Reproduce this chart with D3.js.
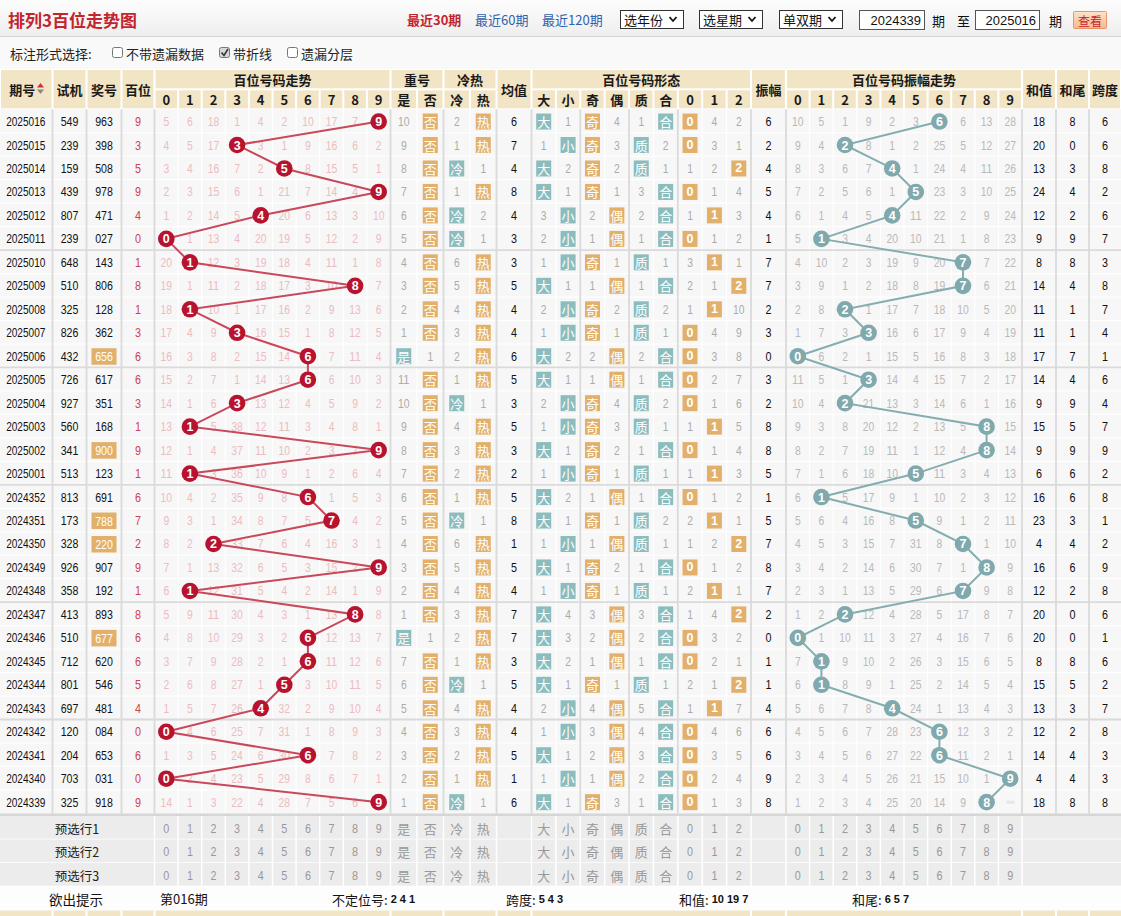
<!DOCTYPE html>
<html><head><meta charset="utf-8">
<script src="https://cdn.jsdelivr.net/npm/d3@7"></script>
<style>body{margin:0;background:#fff;overflow:hidden}</style>
</head><body><svg id="c" width="1121" height="916"></svg>
<script>
// ---------------- DATA ----------------
const issues = ["2025016","2025015","2025014","2025013","2025012","2025011","2025010","2025009","2025008","2025007","2025006","2025005","2025004","2025003","2025002","2025001","2024352","2024351","2024350","2024349","2024348","2024347","2024346","2024345","2024344","2024343","2024342","2024341","2024340","2024339"];
const tests = ["549","239","159","439","807","239","648","510","325","826","432","726","927","560","341","513","813","173","328","926","358","413","510","712","801","697","120","204","703","325"];
const prizes = ["963","398","508","978","471","027","143","806","128","362","656","617","351","168","900","123","691","788","220","907","192","893","677","620","546","481","084","653","031","918"];
const hundreds = [9,3,5,9,4,0,1,8,1,3,6,6,3,1,9,1,6,7,2,9,1,8,6,6,5,4,0,6,0,9];
// omission values, 0 = hit
const trendMiss = [
[5,6,18,1,4,2,10,17,7,0],[4,5,17,0,3,1,9,16,6,2],[3,4,16,7,2,0,8,15,5,1],[2,3,15,6,1,21,7,14,4,0],
[1,2,14,5,0,20,6,13,3,10],[0,1,13,4,20,19,5,12,2,9],[20,0,12,3,19,18,4,11,1,8],[19,1,11,2,18,17,3,10,0,7],
[18,0,10,1,17,16,2,9,13,6],[17,4,9,0,16,15,1,8,12,5],[16,3,8,2,15,14,0,7,11,4],[15,2,7,1,14,13,0,6,10,3],
[14,1,6,0,13,12,4,5,9,2],[13,0,5,38,12,11,3,4,8,1],[12,1,4,37,11,10,2,3,7,0],[11,0,3,36,10,9,1,2,6,4],
[10,4,2,35,9,8,0,1,5,3],[9,3,1,34,8,7,5,0,4,2],[8,2,0,33,7,6,4,16,3,1],[7,1,13,32,6,5,3,15,2,0],
[6,0,12,31,5,4,2,14,1,9],[5,9,11,30,4,3,1,13,0,8],[4,8,10,29,3,2,0,12,13,7],[3,7,9,28,2,1,0,11,12,6],
[2,6,8,27,1,0,3,10,11,5],[1,5,7,26,0,32,2,9,10,4],[0,4,6,25,7,31,1,8,9,3],[1,3,5,24,6,30,0,7,8,2],
[0,2,4,23,5,29,8,6,7,1],[14,1,3,22,4,28,7,5,6,0]];
const repeatMiss = [[10,0],[9,0],[8,0],[7,0],[6,0],[5,0],[4,0],[3,0],[2,0],[1,0],[0,1],[11,0],[10,0],[9,0],[8,0],[7,0],[6,0],[5,0],[4,0],[3,0],[2,0],[1,0],[0,1],[7,0],[6,0],[5,0],[4,0],[3,0],[2,0],[1,0]];
const coldHotMiss = [[2,0],[1,0],[0,1],[1,0],[0,2],[0,1],[6,0],[5,0],[4,0],[3,0],[2,0],[1,0],[0,1],[4,0],[3,0],[2,0],[1,0],[0,1],[6,0],[5,0],[4,0],[3,0],[2,0],[1,0],[0,1],[4,0],[3,0],[2,0],[1,0],[0,1]];
const avgVals = [6,7,4,8,4,3,3,5,4,4,6,5,3,5,3,2,5,8,1,5,4,7,7,3,5,4,4,5,1,6];
const formMiss = [
[0,1,0,4,1,0,0,4,2],[1,0,0,3,0,2,0,3,1],[0,2,0,2,0,1,1,2,0],[0,1,0,1,3,0,0,1,4],[3,0,2,0,2,0,1,0,3],
[2,0,1,0,1,0,0,1,2],[1,0,0,1,0,1,3,0,1],[0,1,1,0,1,0,2,1,0],[2,0,0,2,0,2,1,0,10],[1,0,0,1,0,1,0,4,9],
[0,2,2,0,2,0,0,3,8],[0,1,1,0,1,0,0,2,7],[2,0,0,4,0,2,0,1,6],[1,0,0,3,0,1,1,0,5],[0,1,0,2,1,0,0,1,4],
[1,0,0,1,0,1,1,0,3],[0,2,1,0,1,0,0,1,2],[0,1,0,1,0,2,2,0,1],[1,0,1,0,0,1,1,2,0],[0,1,0,2,1,0,0,1,2],
[1,0,0,1,0,1,2,0,1],[0,4,3,0,3,0,1,4,0],[0,3,2,0,2,0,0,3,2],[0,2,1,0,1,0,0,2,1],[0,1,0,1,0,1,2,1,0],
[2,0,4,0,5,0,1,0,7],[1,0,3,0,4,0,0,4,6],[0,1,2,0,3,0,0,3,5],[1,0,1,0,2,0,0,2,4],[0,1,0,3,1,0,0,1,3]];
const ampVals = [6,2,4,5,4,1,7,7,2,3,0,3,2,8,8,5,1,5,7,8,7,2,0,1,1,4,6,6,9,8];
const ampMiss = [
[10,5,1,9,2,3,0,6,13,28],[9,4,0,8,1,2,25,5,12,27],[8,3,6,7,0,1,24,4,11,26],[7,2,5,6,1,0,23,3,10,25],
[6,1,4,5,0,11,22,2,9,24],[5,0,3,4,20,10,21,1,8,23],[4,10,2,3,19,9,20,0,7,22],[3,9,1,2,18,8,19,0,6,21],
[2,8,0,1,17,7,18,10,5,20],[1,7,3,0,16,6,17,9,4,19],[0,6,2,1,15,5,16,8,3,18],[11,5,1,0,14,4,15,7,2,17],
[10,4,0,21,13,3,14,6,1,16],[9,3,8,20,12,2,13,5,0,15],[8,2,7,19,11,1,12,4,0,14],[7,1,6,18,10,0,11,3,4,13],
[6,0,5,17,9,1,10,2,3,12],[5,6,4,16,8,0,9,1,2,11],[4,5,3,15,7,31,8,0,1,10],[3,4,2,14,6,30,7,1,0,9],
[2,3,1,13,5,29,6,0,9,8],[1,2,0,12,4,28,5,17,8,7],[0,1,10,11,3,27,4,16,7,6],[7,0,9,10,2,26,3,15,6,5],
[6,0,8,9,1,25,2,14,5,4],[5,6,7,8,0,24,1,13,4,3],[4,5,6,7,28,23,0,12,3,2],[3,4,5,6,27,22,0,11,2,1],
[2,3,4,5,26,21,15,10,1,0],[1,2,3,4,25,20,14,9,0,-1]];
const sumVals = [18,20,13,24,12,9,8,14,11,11,17,14,9,15,9,6,16,23,4,16,12,20,20,8,15,13,12,14,4,18];
const sumTails = [8,0,3,4,2,9,8,4,1,1,7,4,9,5,9,6,6,3,4,6,2,0,0,8,5,3,2,4,4,8];
const spans = [6,6,8,2,6,7,3,8,7,4,1,6,4,7,9,2,8,1,2,9,8,6,1,6,2,7,8,3,3,8];

const digitLabels = ["0","1","2","3","4","5","6","7","8","9"];
const repeatLabels = ["是","否"];
const coldHotLabels = ["冷","热"];
const formLabels = ["大","小","奇","偶","质","合","0","1","2"];
const presetLabels = ["预选行1","预选行2","预选行3"];
const navLinks = ["最近30期","最近60期","最近120期"];
const selectLabels = ["选年份","选星期","单双期"];
const rangeStart = "2024339", rangeEnd = "2025016";
const optionLabels = ["不带遗漏数据","带折线","遗漏分层"];
const hintIssue = "第016期";
const hintItems = [["不定位号:","2 4 1"],["跨度:","5 4 3"],["和值:","10 19 7"],["和尾:","6 5 7"]];

// ---------------- LAYOUT ----------------
const CJK = '"Noto Sans CJK SC","Noto Sans",sans-serif';
const NUM = '"Liberation Sans",Arial,sans-serif';
const DW = 5.75; // condensed digit advance
const ROW_H = 23.47, TOP = 109.3, NROW = issues.length;
const BOT = TOP + ROW_H * NROW;
const col = {issue:[0,52.5], test:[52.5,86.5], prize:[86.5,121.5], hund:[121.5,154.5], avg:[496.5,531.5], amp:[751,786], sum:[1022,1056], tail:[1056,1089], span:[1089,1121]};
const y = d3.scaleBand().domain(issues).range([TOP, BOT]);
const xTrend = d3.scaleBand().domain(digitLabels).range([154.5, 390.5]);
const xRep = d3.scaleBand().domain(repeatLabels).range([390.5, 443.5]);
const xCH = d3.scaleBand().domain(coldHotLabels).range([443.5, 496.5]);
const xForm = d3.scaleBand().domain(formLabels).range([531.5, 751]);
const xAmp = d3.scaleBand().domain(digitLabels).range([786, 1022]);
const cx = c => (c[0]+c[1])/2;

const C = {beige:'#f2e5c5', cell:'#f7f7f7', grid:'#ffffff', major:'#dadada', red:'#b8132e', redLine:'#c9485a',
  teal:'#7fa9ac', tealLine:'#84adaf', boxT:'#8bbcbe', boxO:'#e2b06b', pink:'#ecbcc0', gray:'#ababab', gray2:'#b9b9b9'};

const svg = d3.select('#c');
function T(g,x,yy,s,o={}){
  s = String(s);
  const t = g.append('text').attr('x',x).attr('y',yy).attr('text-anchor',o.anchor||'middle')
    .attr('dominant-baseline','central').attr('font-size',o.size||12).attr('font-weight',o.weight||'normal')
    .attr('fill',o.fill||'#222').attr('font-family',o.family||NUM).text(s);
  if(o.cond) t.attr('textLength', s.length*(o.dw||DW)).attr('lengthAdjust','spacingAndGlyphs');
  return t;
}
function R(g,x,yy,w,h,fill,o={}){
  const r = g.append('rect').attr('x',x).attr('y',yy).attr('width',w).attr('height',h).attr('fill',fill);
  if(o.stroke) r.attr('stroke',o.stroke).attr('stroke-width',o.sw||1);
  if(o.rx) r.attr('rx',o.rx);
  return r;
}

// ---------------- TOP BAR ----------------
const defs = svg.append('defs');
const gr = defs.append('linearGradient').attr('id','topg').attr('x1',0).attr('y1',0).attr('x2',0).attr('y2',1);
gr.append('stop').attr('offset','0%').attr('stop-color','#fdfdfd');
gr.append('stop').attr('offset','100%').attr('stop-color','#eeeeee');
const bgr = defs.append('linearGradient').attr('id','btng').attr('x1',0).attr('y1',0).attr('x2',0).attr('y2',1);
bgr.append('stop').attr('offset','0%').attr('stop-color','#fde3cc');
bgr.append('stop').attr('offset','100%').attr('stop-color','#f7b88a');
const topG = svg.append('g');
R(topG,0,0,1121,36,'url(#topg)');
topG.append('line').attr('x1',0).attr('x2',1121).attr('y1',36.5).attr('y2',36.5).attr('stroke','#d4d4d4');
R(topG,0,37,1121,32,'#f9f9f9');
T(topG,8,19,"排列3百位走势图",{anchor:'start',size:17,weight:'bold',fill:'#c4242d',family:CJK});
const navX = [407,475,542];
navLinks.forEach((s,i)=>T(topG,navX[i],19,s,{anchor:'start',size:13,weight:i===0?'bold':'normal',fill:i===0?'#c4242d':'#2f62ad',family:CJK}));
const selX = [[620,683],[699,762],[779,842]];
selectLabels.forEach((s,i)=>{
  R(topG,selX[i][0]+0.5,10.5,selX[i][1]-selX[i][0],18,'#fff',{stroke:'#333'});
  T(topG,selX[i][0]+4,19.5,s,{anchor:'start',size:13,fill:'#111',family:CJK});
  const ax = selX[i][1]-10;
  topG.append('path').attr('d',`M${ax-3.5},17 L${ax},21 L${ax+3.5},17`).attr('fill','none').attr('stroke','#111').attr('stroke-width',1.8);
});
R(topG,859.5,10.5,65,19,'#fff',{stroke:'#555'});
T(topG,921,20,rangeStart,{anchor:'end',size:13,fill:'#111',cond:true,dw:7.2});
T(topG,932,20,"期",{anchor:'start',size:13,fill:'#111',family:CJK});
T(topG,957,20,"至",{anchor:'start',size:13,fill:'#111',family:CJK});
R(topG,975.5,10.5,64,19,'#fff',{stroke:'#555'});
T(topG,1036,20,rangeEnd,{anchor:'end',size:13,fill:'#111',cond:true,dw:7.2});
T(topG,1049,20,"期",{anchor:'start',size:13,fill:'#111',family:CJK});
R(topG,1073.5,11.5,33,17,'url(#btng)',{stroke:'#e8956b',rx:1});
T(topG,1090,20,"查看",{size:12,fill:'#c4242d',family:CJK});

T(topG,10,53,"标注形式选择:",{anchor:'start',size:13,fill:'#222',family:CJK});
const optX = [112,219,287];
optionLabels.forEach((s,i)=>{
  R(topG,optX[i]+0.5,47.5,10,10,i===1?'#d9d9d9':'#fff',{stroke:'#767676',rx:2});
  if(i===1) topG.append('path').attr('d',`M${optX[i]+2.5},52.5 L${optX[i]+5},55.5 L${optX[i]+9},49`).attr('fill','none').attr('stroke','#333').attr('stroke-width',1.6);
  T(topG,optX[i]+14,53,s,{anchor:'start',size:13,fill:'#222',family:CJK});
});

// ---------------- HEADER ----------------
const hd = svg.append('g');
R(hd,0,69,1121,40,'#ffffff');
const H1 = 69, H2 = 89.3, H3 = TOP;
function hcell(x0,x1,y0,y1,label,o={}){
  R(hd,x0+1,y0+1,x1-x0-2,y1-y0-2,C.beige);
  if(label!==undefined) T(hd,(x0+x1)/2 + (o.dx||0),(y0+y1)/2,label,{size:o.size||13,weight:'bold',fill:'#1a1a1a',family:CJK});
}
[['issue','期号'],['test','试机'],['prize','奖号'],['hund','百位'],['avg','均值'],['amp','振幅'],['sum','和值'],['tail','和尾'],['span','跨度']]
  .forEach(([k,l])=>hcell(col[k][0],col[k][1],H1,H3,l,{dx:k==='issue'?-4:0}));
hd.append('path').attr('d','M37,87.5 L40.5,83 L44,87.5 Z').attr('fill','#d0303a');
hd.append('path').attr('d','M37,89.5 L40.5,94 L44,89.5 Z').attr('fill','#888');
const groups = [[xTrend,'百位号码走势'],[xRep,'重号'],[xCH,'冷热'],[xForm,'百位号码形态'],[xAmp,'百位号码振幅走势']];
groups.forEach(([sc,l])=>{
  const r = sc.range();
  hcell(r[0],r[1],H1,H2,l);
  sc.domain().forEach(d=>hcell(sc(d),sc(d)+sc.bandwidth(),H2,H3,d,{size:13}));
});

// ---------------- BODY GRID ----------------
const body = svg.append('g');
R(body,0,TOP,1121,BOT-TOP,C.cell);
const minorX = [];
[xTrend,xRep,xCH,xForm,xAmp].forEach(sc=>sc.domain().slice(1).forEach(d=>minorX.push(sc(d))));
body.selectAll('line.mx').data(minorX).join('line').attr('x1',d=>d).attr('x2',d=>d).attr('y1',TOP).attr('y2',BOT).attr('stroke',C.grid).attr('stroke-width',1.2);
body.selectAll('line.hy').data(issues.slice(1)).join('line').attr('x1',0).attr('x2',1121).attr('y1',d=>y(d)).attr('y2',d=>y(d)).attr('stroke',C.grid).attr('stroke-width',1.2);
const majorX = [52.5,86.5,121.5,154.5,390.5,443.5,496.5,531.5,xForm('奇'),xForm('质'),xForm('0'),751,786,1022,1056,1089];
body.selectAll('line.Mx').data(majorX).join('line').attr('x1',d=>d).attr('x2',d=>d).attr('y1',TOP).attr('y2',BOT).attr('stroke',C.major).attr('stroke-width',1.8);
const sepRows = issues.filter((d,i)=>i>5 && (i-1)%5===0);
body.selectAll('line.sy').data(sepRows).join('line').attr('x1',0).attr('x2',1121).attr('y1',d=>y(d)).attr('y2',d=>y(d)).attr('stroke',C.major).attr('stroke-width',1.8);

// ---------------- BODY CONTENT ----------------
const rows = issues.map((d,i)=>({i,issue:d}));
const cy = d => y(d.issue) + ROW_H/2 + 0.5;
const g = body.append('g');
const rg = g.selectAll('g.r').data(rows).join('g');
rg.each(function(d){
  const s = d3.select(this), i = d.i, yy = cy(d);
  T(s,cx(col.issue)-0.5,yy,d.issue,{size:13,fill:'#111',cond:true,dw:5.6});
  T(s,cx(col.test),yy,tests[i],{size:13.5,fill:'#111',cond:true,dw:5.9});
  const p = prizes[i];
  if(new Set(p.split('')).size < 3){
    R(s,cx(col.prize)-12.5,yy-8,25,16.5,C.boxO);
    T(s,cx(col.prize),yy+0.5,p,{size:13.5,fill:'#fff',cond:true,dw:5.9});
  } else T(s,cx(col.prize),yy,p,{size:13.5,fill:'#111',cond:true,dw:5.9});
  T(s,cx(col.hund),yy,hundreds[i],{size:13.5,fill:'#d0404f',cond:true,dw:6});
  trendMiss[i].forEach((v,k)=>{ if(v>0) T(s,xTrend(digitLabels[k])+xTrend.bandwidth()/2,yy,v,{size:13,fill:C.pink,cond:true}); });
  repeatMiss[i].forEach((v,k)=>{
    const xx = xRep(repeatLabels[k])+xRep.bandwidth()/2;
    if(v===0){ R(s,xx-7.5,yy-8,15,16,k===0?C.boxT:C.boxO); T(s,xx,yy,repeatLabels[k],{size:13,fill:'#fff',family:CJK}); }
    else T(s,xx,yy,v,{size:13,fill:C.gray,cond:true});
  });
  coldHotMiss[i].forEach((v,k)=>{
    const xx = xCH(coldHotLabels[k])+xCH.bandwidth()/2;
    if(v===0){ R(s,xx-7.5,yy-8,15,16,k===0?C.boxT:C.boxO); T(s,xx,yy,coldHotLabels[k],{size:13,fill:'#fff',family:CJK}); }
    else T(s,xx,yy,v,{size:13,fill:C.gray,cond:true});
  });
  T(s,cx(col.avg),yy,avgVals[i],{size:13.5,fill:'#111',cond:true,dw:6});
  formMiss[i].forEach((v,k)=>{
    const xx = xForm(formLabels[k])+xForm.bandwidth()/2;
    if(v===0){
      const teal = (k<2)||(k===4||k===5);
      R(s,xx-7.5,yy-8,15,16,teal?C.boxT:C.boxO);
      T(s,xx,yy,formLabels[k],{size:k>=6?12.5:13,weight:k>=6?'bold':'normal',fill:'#fff',family:k>=6?NUM:CJK});
    } else T(s,xx,yy,v,{size:13,fill:C.gray,cond:true});
  });
  T(s,cx(col.amp),yy,ampVals[i],{size:13.5,fill:'#111',cond:true,dw:6});
  ampMiss[i].forEach((v,k)=>{
    const xx = xAmp(digitLabels[k])+xAmp.bandwidth()/2;
    if(v>0) T(s,xx,yy,v,{size:13,fill:C.gray2,cond:true});
    else if(v<0) R(s,xx-4,yy-1.5,8,3,'#e6e6e6');
  });
  T(s,cx(col.sum),yy,sumVals[i],{size:13.5,fill:'#111',cond:true,dw:6});
  T(s,cx(col.tail),yy,sumTails[i],{size:13.5,fill:'#111',cond:true,dw:6});
  T(s,cx(col.span),yy,spans[i],{size:13.5,fill:'#111',cond:true,dw:6});
});

const lineT = d3.line().x(d=>xTrend(String(hundreds[d.i]))+xTrend.bandwidth()/2).y(cy);
g.append('path').attr('d',lineT(rows)).attr('fill','none').attr('stroke',C.redLine).attr('stroke-width',2);
const lineA = d3.line().x(d=>xAmp(String(ampVals[d.i]))+xAmp.bandwidth()/2).y(cy);
g.append('path').attr('d',lineA(rows)).attr('fill','none').attr('stroke',C.tealLine).attr('stroke-width',2);
const bt = g.selectAll('g.bt').data(rows).join('g').attr('transform',d=>`translate(${xTrend(String(hundreds[d.i]))+xTrend.bandwidth()/2},${cy(d)})`);
bt.append('circle').attr('r',8.3).attr('fill',C.red);
bt.append('text').attr('text-anchor','middle').attr('dominant-baseline','central').attr('y',0.5).attr('font-size',12.5).attr('font-weight','bold').attr('fill','#fff').attr('font-family',NUM).text(d=>hundreds[d.i]);
const ba = g.selectAll('g.ba').data(rows).join('g').attr('transform',d=>`translate(${xAmp(String(ampVals[d.i]))+xAmp.bandwidth()/2},${cy(d)})`);
ba.append('circle').attr('r',8.3).attr('fill',C.teal);
ba.append('text').attr('text-anchor','middle').attr('dominant-baseline','central').attr('y',0.5).attr('font-size',12.5).attr('font-weight','bold').attr('fill','#fff').attr('font-family',NUM).text(d=>ampVals[d.i]);

// ---------------- PRESET ROWS ----------------
const pr = svg.append('g');
const P0 = BOT + 2.6;
R(pr,0,BOT,1121,P0-BOT,'#d6d6d6');
const PH = 23.5;
presetLabels.forEach((lab,j)=>{
  const y0 = P0 + j*PH, yy = y0 + PH/2 + 0.5;
  R(pr,0,y0,1121,PH,'#ececec');
  pr.append('line').attr('x1',0).attr('x2',1121).attr('y1',y0+PH).attr('y2',y0+PH).attr('stroke','#fff').attr('stroke-width',1.5);
  T(pr,77,yy,lab,{size:12.5,fill:'#222',family:CJK});
  const vlines = [154.5,...minorX,390.5,443.5,496.5,531.5,751,786,1022];
  vlines.forEach(x=>pr.append('line').attr('x1',x).attr('x2',x).attr('y1',y0).attr('y2',y0+PH).attr('stroke','#fff').attr('stroke-width',1.5));
  digitLabels.forEach(d=>T(pr,xTrend(d)+xTrend.bandwidth()/2,yy,d,{size:13.5,fill:'#999',cond:true,dw:6}));
  repeatLabels.forEach(d=>T(pr,xRep(d)+xRep.bandwidth()/2,yy,d,{size:13,fill:'#999',family:CJK}));
  coldHotLabels.forEach(d=>T(pr,xCH(d)+xCH.bandwidth()/2,yy,d,{size:13,fill:'#999',family:CJK}));
  formLabels.forEach(d=>/\d/.test(d)?T(pr,xForm(d)+xForm.bandwidth()/2,yy,d,{size:13.5,fill:'#999',cond:true,dw:6}):T(pr,xForm(d)+xForm.bandwidth()/2,yy,d,{size:13,fill:'#999',family:CJK}));
  digitLabels.forEach(d=>T(pr,xAmp(d)+xAmp.bandwidth()/2,yy,d,{size:13.5,fill:'#999',cond:true,dw:6}));
});

// ---------------- HINT ROW ----------------
const hy0 = P0 + 3*PH, hyy = hy0 + 12;
R(pr,0,hy0,1121,24,'#fdfdfd');
T(pr,76,hyy,"欲出提示",{size:13.5,fill:'#111',family:CJK});
T(pr,160,hyy,hintIssue,{anchor:'start',size:13,fill:'#111',family:CJK});
const hintX = [332,506,679,852];
hintItems.forEach(([l,v],i)=>{
  const t = pr.append('text').attr('x',hintX[i]).attr('y',hyy).attr('dominant-baseline','central').attr('fill','#111');
  t.append('tspan').attr('font-family',CJK).attr('font-size',13).text(l);
  t.append('tspan').attr('font-family',NUM).attr('font-size',11).attr('font-weight','bold').attr('dx',3).text(v);
});
const by0 = hy0 + 24;
R(pr,0,by0,1121,916-by0,C.beige);
[52.5,86.5,121.5,154.5,390.5,443.5,496.5,531.5,751,786,1022,1056,1089].forEach(x=>pr.append('line').attr('x1',x).attr('x2',x).attr('y1',by0).attr('y2',916).attr('stroke','#fff').attr('stroke-width',2));
</script></body></html>
